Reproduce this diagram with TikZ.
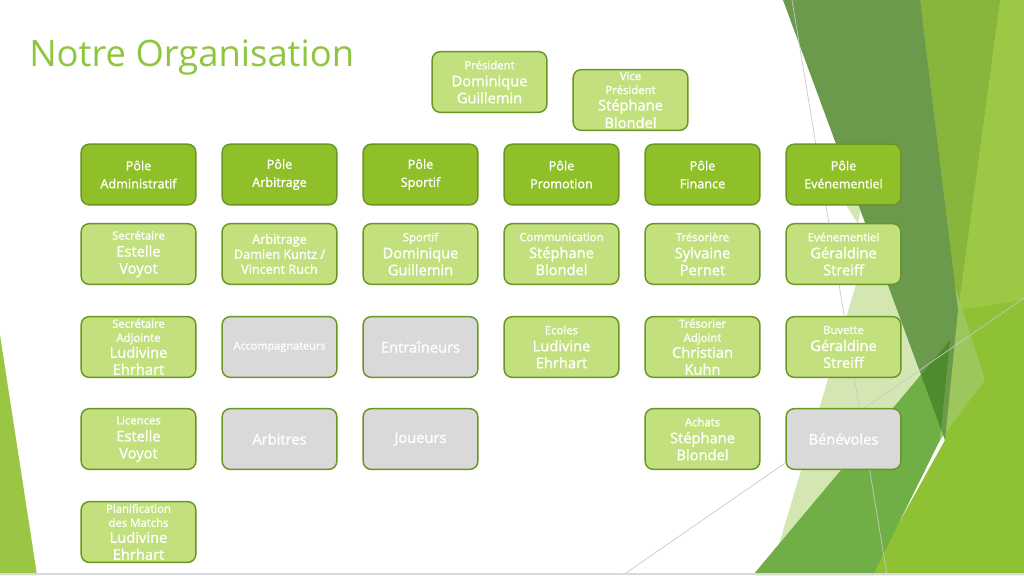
\documentclass[tikz,border=0pt]{standalone}
\usepackage{fontspec}
\setmainfont{Open Sans}
\newfontfamily\boite{Open Sans}[FakeBold=1.2]
\definecolor{titre}{HTML}{8FC63F}
\definecolor{vert}{HTML}{8FC02A}
\definecolor{vertfonce}{HTML}{6A9623}
\definecolor{vertclair}{HTML}{C2E07E}
\definecolor{gris}{HTML}{D9D9D9}
\definecolor{pale}{HTML}{D4E7B3}
\definecolor{vif}{HTML}{8FC134}
\definecolor{lime}{HTML}{9CC845}
\definecolor{olive}{HTML}{88B53B}
\definecolor{sombre}{HTML}{6B9A4C}
\definecolor{moyen}{HTML}{6FAF46}
\definecolor{profond}{HTML}{4E8B2C}
\definecolor{bande}{HTML}{9DC75C}
\definecolor{trait}{HTML}{C8C8C8}
\tikzset{%
    pole/.style={shape=rectangle,rounded corners=6pt,draw=vertfonce,line width=1.1pt,fill=vert,text=white,minimum width=86pt,minimum height=45.5pt,inner sep=0pt,align=center,font=\boite\fontsize{9.5}{13.5}\selectfont},
    membre/.style={pole,fill=vertclair,font=\boite\fontsize{10}{12.75}\selectfont},
    vide/.style={membre,fill=gris},
    fil/.style={trait,line width=0.5pt},
}
\newcommand{\role}[1]{{\fontsize{8.5}{10}\selectfont #1}}
\newcommand{\nom}[1]{{\fontsize{11}{13}\selectfont #1}}

\begin{document}
\begin{tikzpicture}[x=0.75pt,y=-0.75pt]
            \useasboundingbox (0,0) rectangle (1024,575);
            \fill[white] (0,0) rectangle (1024,575);

            %décor
            \fill[lime!90!olive] (0,335) -- (37,575) -- (0,575) -- cycle;
            \fill[pale] (770,575) -- (884,190) -- (985,380) -- cycle;
            \fill[pale] (843,200) -- (862,200) -- (858,224) -- cycle;
            \fill[vif] (915,0) -- (1024,0) -- (1024,575) -- (870,575) -- (945,440) -- cycle;
            \fill[lime] (1000,0) -- (1024,0) -- (1024,300) -- (958,310) -- cycle;
            \fill[olive] (920,0) -- (1000,0) -- (958,310) -- cycle;
            \fill[bande] (953,280) -- (985,380) -- (940,440) -- cycle;
            \fill[sombre] (783,0) -- (920,0) -- (958,310) -- (945,440) -- cycle;
            \fill[moyen] (753,575) -- (950,340) -- (940,440) -- (873,575) -- cycle;
            \begin{scope}
                \clip (783,0) -- (920,0) -- (958,310) -- (945,440) -- cycle;
                \fill[profond] (753,575) -- (950,340) -- (940,440) -- (873,575) -- cycle;
            \end{scope}
            \draw[fil] (792,0) -- (887,575);
            \draw[fil] (623,575) -- (1024,298);
            \draw[gris,line width=1pt] (0,574) -- (1024,574);

            %titre
            \node[anchor=base west,text=titre,font=\fontsize{27.3}{32}\selectfont,inner sep=0pt] (titre) at (29,66) {Notre Organisation};

            %bureau
            \node[membre] (president) at (489.5,82) {\role{Président}\\\nom{Dominique}\\\nom{Guillemin}};
            \node[membre] (vice) at (630.5,100) {\role{Vice}\\[-2.25pt]\role{Président}\\[-0.5pt]\nom{Stéphane}\\[0.5pt]\nom{Blondel}};

            %pôles
            \node[pole] (admin) at (138.5,174.5) {Pôle\\Administratif};
            \node[pole] (arbitrage) at (279.5,174.5) {Pôle\\Arbitrage};
            \node[pole] (sportif) at (420.5,174.5) {Pôle\\Sportif};
            \node[pole] (promotion) at (561.5,174.5) {Pôle\\Promotion};
            \node[pole] (finance) at (702.5,174.5) {Pôle\\Finance};
            \node[pole] (evenement) at (843.5,174.5) {Pôle\\{\fontsize{9.3}{11}\selectfont Evénementiel}};

            %responsables
            \node[membre] (secretaire) at (138.5,254) {\role{Secrétaire}\\\nom{Estelle}\\\nom{Voyot}};
            \node[membre,font=\boite\fontsize{9.5}{11.25}\selectfont] (arbitres) at (279.5,254) {Arbitrage\\Damien Kuntz /\\Vincent Ruch};
            \node[membre] (sport) at (420.5,254) {\role{Sportif}\\\nom{Dominique}\\\nom{Guillemin}};
            \node[membre] (communication) at (561.5,254) {\role{Communication}\\\nom{Stéphane}\\\nom{Blondel}};
            \node[membre] (tresoriere) at (702.5,254) {\role{Trésorière}\\\nom{Sylvaine}\\\nom{Pernet}};
            \node[membre] (festivites) at (843.5,254) {\role{Evénementiel}\\\nom{Géraldine}\\\nom{Streiff}};

            %adjoints
            \node[membre] (adjointe) at (138.5,347) {\role{Secrétaire}\\[-2.25pt]\role{Adjointe}\\[-0.75pt]\nom{Ludivine}\\\nom{Ehrhart}};
            \node[vide] (accompagnateurs) at (279.5,347) {{\fontsize{8.2}{10}\selectfont Accompagnateurs}};
            \node[vide] (entraineurs) at (420.5,347) {\nom{Entraîneurs}};
            \node[membre] (ecoles) at (561.5,347) {\role{Ecoles}\\\nom{Ludivine}\\\nom{Ehrhart}};
            \node[membre] (adjoint) at (702.5,347) {\role{Trésorier}\\[-2.25pt]\role{Adjoint}\\[-0.75pt]\nom{Christian}\\\nom{Kuhn}};
            \node[membre] (buvette) at (843.5,347) {\role{Buvette}\\\nom{Géraldine}\\\nom{Streiff}};

            %quatrième rang
            \node[membre] (licences) at (138.5,439) {\role{Licences}\\\nom{Estelle}\\\nom{Voyot}};
            \node[vide] (arbitresvide) at (279.5,439) {\nom{Arbitres}};
            \node[vide] (joueurs) at (420.5,439) {\nom{Joueurs}};
            \node[membre] (achats) at (702.5,439) {\role{Achats}\\\nom{Stéphane}\\\nom{Blondel}};
            \node[vide] (benevoles) at (843.5,439) {\nom{Bénévoles}};

            %planification
            \node[membre] (matchs) at (138.5,532) {\role{Planification}\\[-2.25pt]\role{des Matchs}\\[-0.75pt]\nom{Ludivine}\\\nom{Ehrhart}};
        \end{tikzpicture}
\end{document}
